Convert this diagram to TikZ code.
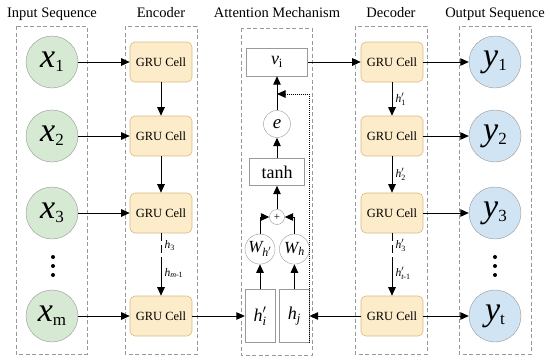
\documentclass[tikz,border=0pt]{standalone}
\usepackage{amsmath}
\usepackage{fontspec}
\setmainfont{Liberation Serif}
\usepackage{tikz}
\usetikzlibrary{positioning,arrows.meta}
\definecolor{cellfill}{RGB}{253,236,201}
\definecolor{celledge}{RGB}{214,186,128}
\definecolor{infill}{RGB}{214,233,211}
\definecolor{outfill}{RGB}{208,228,244}
\definecolor{rimgray}{RGB}{150,150,150}
\newcommand{\seqv}[2]{{\fontsize{34}{36}\selectfont\textit{#1}\raisebox{-4pt}{\fontsize{17}{17}\selectfont#2}}}

\begin{document}
\begin{tikzpicture}[x=1pt,y=-1pt,node distance=4pt and 4pt]
\tikzset{grp/.style={draw=black!40,dash pattern=on 4pt off 2.5pt,line width=0.6pt},
ttl/.style={anchor=base,font=\fontsize{14.5}{16}\selectfont},
cell/.style={rounded corners=5pt,draw=celledge,fill=cellfill,minimum width=62pt,minimum height=40pt,font=\fontsize{12.5}{14}\selectfont,line width=0.6pt},
xin/.style={circle,draw=rimgray,fill=infill,minimum size=52pt,inner sep=0pt},
yout/.style={circle,draw=rimgray,fill=outfill,minimum size=52pt,inner sep=0pt},
abox/.style={draw=black!40,fill=white,inner sep=0pt,font=\fontsize{18}{20}\selectfont},
acirc/.style={circle,draw=black!40,fill=white,inner sep=0pt,font=\fontsize{17}{19}\selectfont},
hlab/.style={right,inner sep=3pt,font=\fontsize{11.5}{12}\selectfont},
arr/.style={-{Triangle[length=8.5pt,width=7.5pt]},line width=1pt}}
\useasboundingbox (0,0) rectangle (550,362);
\node[ttl] (tin) at (52,17) {Input Sequence};
\node[ttl] (tenc) at (161,17) {Encoder};
\node[ttl] (tatt) at (277,17) {Attention Mechanism};
\node[ttl] (tdec) at (391,17) {Decoder};
\node[ttl] (tout) at (495,17) {Output Sequence};
\draw[grp] (16,26) rectangle (87,354);
\draw[grp] (125,26) rectangle (197,354);
\draw[grp] (241,28) rectangle (312,355);
\draw[grp] (355,26) rectangle (427,354);
\draw[grp] (459,26) rectangle (531,354);
\node[xin] (x1) at (52,62) {\seqv{x}{1}};
\node[xin] (x2) at (52,136) {\seqv{x}{2}};
\node[xin] (x3) at (52,213) {\seqv{x}{3}};
\node[xin] (xm) at (52,316) {\seqv{x}{m}};
\node[cell] (e1) at (161,62) {GRU Cell};
\node[cell] (e2) at (161,136) {GRU Cell};
\node[cell] (e3) at (161,213) {GRU Cell};
\node[cell] (e4) at (161,316) {GRU Cell};
\node[cell] (d1) at (392,62) {GRU Cell};
\node[cell] (d2) at (392,136) {GRU Cell};
\node[cell] (d3) at (392,213) {GRU Cell};
\node[cell] (d4) at (392,316) {GRU Cell};
\node[yout] (y1) at (495,62) {\seqv{y}{1}};
\node[yout] (y2) at (495,136) {\seqv{y}{2}};
\node[yout] (y3) at (495,213) {\seqv{y}{3}};
\node[yout] (yt) at (495,316) {\seqv{y}{t}};
\foreach \yy in {257,266,275} {\fill (53,\yy) circle (2pt); \fill (495,\yy) circle (2pt);}
\node[abox,minimum width=61pt,minimum height=28pt] (vi) at (277,62) {$\textit{v}_{\text{i}}$};
\node[acirc,minimum size=27pt,font=\fontsize{19}{20}\selectfont] (ee) at (277,124) {\textit{e}};
\node[abox,minimum width=55pt,minimum height=27pt] (tanh) at (277,172) {tanh};
\node[acirc,minimum size=15pt,font=\fontsize{11}{11}\selectfont] (plus) at (277,217) {+};
\node[abox,minimum width=30pt,minimum height=53pt] (hi) at (260,316) {$\textit{h}^{\prime}_{\textit{i}}$};
\node[abox,minimum width=30pt,minimum height=53pt,right=4pt of hi] (hj) {$\textit{h}_{\textit{j}}$};
\node[acirc,minimum size=30pt,above=25pt of hi] (whi) {$\textit{W}_{\textit{h}^{\prime}}$};
\node[acirc,minimum size=30pt,above=25pt of hj] (whj) {$\textit{W}_{\textit{h}}$};
\coordinate (ebrk) at (161,258);
\coordinate (dbrk) at (392,258);
\coordinate (dotin) at (277,94);
\foreach \a/\b in {x1/e1,x2/e2,x3/e3,xm/e4,e1/e2,e2/e3,e4/hi,vi/d1,d4/hj,d1/y1,d2/y2,d3/y3,d4/yt,hi/whi,hj/whj,plus/tanh,tanh/ee,ee/vi}
  \draw[arr] (\a) -- (\b);
\draw[arr] (whi) |- (plus);
\draw[arr] (whj) |- (plus);
\draw[arr,densely dotted] (hj.south east) |- (dotin);
\draw[dash pattern=on 8pt off 4pt,line width=1pt] (e3) -- (ebrk) node[hlab,midway] {$\textit{h}_{\text{3}}$};
\draw[arr] (ebrk) -- (e4) node[hlab,pos=0.4] {$\textit{h}_{\textit{m}\text{-1}}$};
\draw[arr] (d1) -- (d2) node[hlab,midway] {$\textit{h}^{\prime}_{\text{1}}$};
\draw[arr] (d2) -- (d3) node[hlab,midway] {$\textit{h}^{\prime}_{\text{2}}$};
\draw[dash pattern=on 8pt off 4pt,line width=1pt] (d3) -- (dbrk) node[hlab,midway] {$\textit{h}^{\prime}_{\text{3}}$};
\draw[arr] (dbrk) -- (d4) node[hlab,pos=0.4] {$\textit{h}^{\prime}_{\textit{t}\text{-1}}$};
\end{tikzpicture}
\end{document}
